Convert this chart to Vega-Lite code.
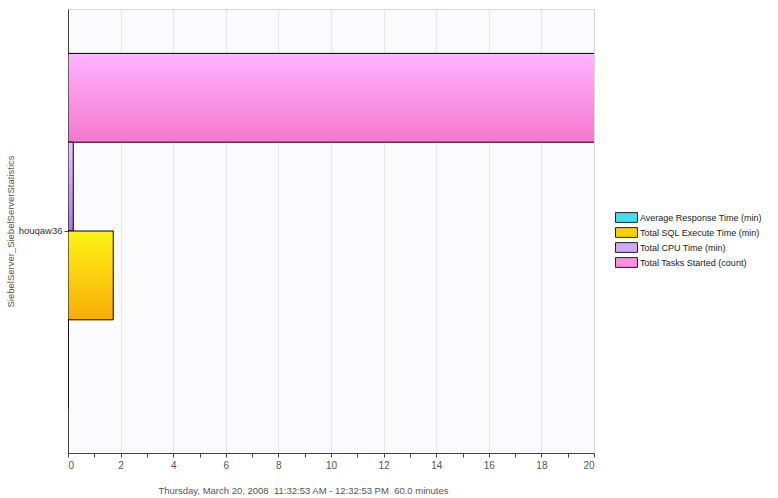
{
  "$schema": "https://vega.github.io/schema/vega-lite/v6.json",
  "width": 526,
  "height": 444,
  "autosize": "none",
  "padding": {"left": 68, "top": 9, "right": 184, "bottom": 45},
  "background": "white",
  "config": {
    "view": {"fill": "#FBFBFD", "stroke": "#D8D8D8", "strokeWidth": 1},
    "font": "Liberation Sans",
    "axis": {"labelFont": "Liberation Sans", "titleFont": "Liberation Sans", "labelColor": "#555", "titleColor": "#555", "titleFontWeight": "normal", "domainColor": "#444", "tickColor": "#444"}
  },
  "data": {"values": [
    {"server": "houqaw36", "series": "Total Tasks Started (count)", "value": 25},
    {"server": "houqaw36", "series": "Total CPU Time (min)", "value": 0.2},
    {"server": "houqaw36", "series": "Total SQL Execute Time (min)", "value": 1.72},
    {"server": "houqaw36", "series": "Average Response Time (min)", "value": 0}
  ]},
  "encoding": {
    "y": {"field": "server", "type": "nominal", "scale": {"paddingInner": 0.2, "paddingOuter": 0.1},
      "axis": {"title": "SiebelServer_SiebelServerStatistics", "labelFontSize": 9.5, "labelColor": "#333", "titleFontSize": 9.5, "tickSize": 4, "labelPadding": 2, "titlePadding": 3, "domainColor": "#444"}},
    "yOffset": {"field": "series", "type": "nominal", "sort": ["Total Tasks Started (count)", "Total CPU Time (min)", "Total SQL Execute Time (min)", "Average Response Time (min)"], "scale": {"paddingInner": 0, "paddingOuter": 0}},
    "x": {"field": "value", "type": "quantitative", "scale": {"domain": [0, 20], "nice": false, "zero": true},
      "axis": {"values": [0,1,2,3,4,5,6,7,8,9,10,11,12,13,14,15,16,17,18,19,20],
        "labelExpr": "datum.value % 2 === 0 ? datum.label : ''",
        "grid": true, "gridColor": "#E6E6EC",
        "gridOpacity": {"condition": {"test": "datum.value % 2 === 0 && datum.value > 0 && datum.value < 20", "value": 1}, "value": 0},
        "tickSize": 4, "labelFontSize": 10, "labelPadding": 3,
        "title": "Thursday, March 20, 2008\u00a0\u00a011:32:53 AM - 12:32:53 PM\u00a0\u00a060.0 minutes",
        "titleFontSize": 9.5, "titlePadding": 15, "titleX": 235}}
  },
  "layer": [
    {
      "mark": {"type": "bar", "clip": true},
      "encoding": {
        "color": {"field": "series", "type": "nominal",
          "scale": {"domain": ["Average Response Time (min)", "Total SQL Execute Time (min)", "Total CPU Time (min)", "Total Tasks Started (count)"],
                    "range": ["#3FE0F0", "#FCD000", "#D0A8F8", "#FA90E0"]},
          "legend": {"title": null, "orient": "none", "legendX": 551, "legendY": 201,
            "symbolType": "M-1.57,-0.7H1.57V0.7H-1.57Z", "symbolSize": 196, "symbolStrokeColor": "#222", "symbolStrokeWidth": 1, "symbolOpacity": 1,
            "labelFontSize": 9, "labelColor": "#222", "labelFont": "Liberation Sans", "rowPadding": -3.5, "labelOffset": 6, "labelLimit": 300}}
      }
    },
    {
      "mark": {"type": "bar", "clip": true, "stroke": "#000", "strokeWidth": 1},
      "encoding": {
        "fill": {
          "condition": [
            {"test": "datum.series === 'Total Tasks Started (count)'", "value": {"gradient": "linear", "x1": 0, "y1": 0, "x2": 0, "y2": 1, "stops": [{"offset": 0, "color": "#FFB4FF"}, {"offset": 1, "color": "#F578CC"}]}},
            {"test": "datum.series === 'Total CPU Time (min)'", "value": {"gradient": "linear", "x1": 0, "y1": 0, "x2": 0, "y2": 1, "stops": [{"offset": 0, "color": "#E8C8FF"}, {"offset": 1, "color": "#A878F0"}]}},
            {"test": "datum.series === 'Total SQL Execute Time (min)'", "value": {"gradient": "linear", "x1": 0, "y1": 0, "x2": 0, "y2": 1, "stops": [{"offset": 0, "color": "#FFF414"}, {"offset": 1, "color": "#F8AC08"}]}}
          ],
          "value": {"gradient": "linear", "x1": 0, "y1": 0, "x2": 0, "y2": 1, "stops": [{"offset": 0, "color": "#70F0FF"}, {"offset": 1, "color": "#20C8E0"}]}
        }
      }
    }
  ]
}
